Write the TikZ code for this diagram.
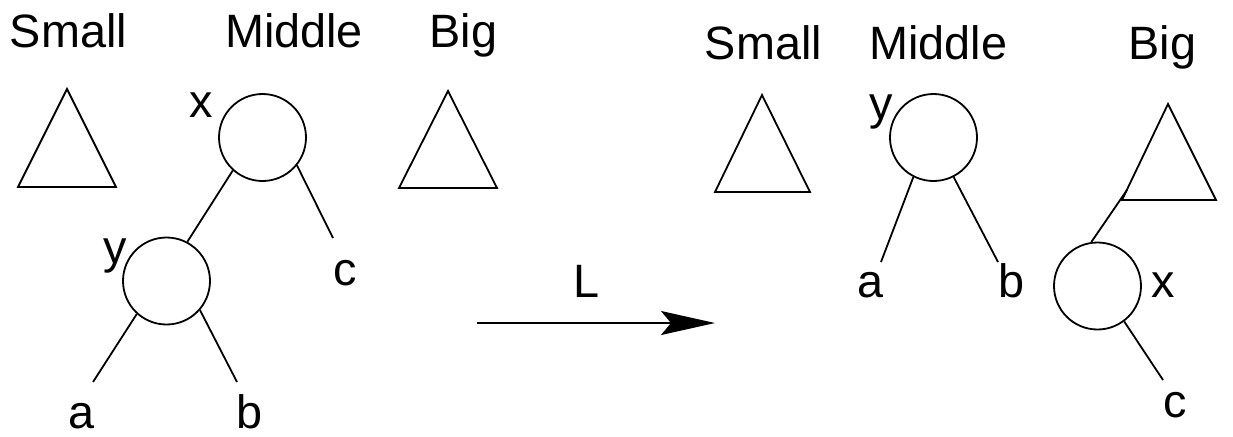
\documentclass[tikz,border=0pt]{standalone}
\usepackage{fontspec}
\setmainfont{Liberation Sans}
\usepackage{tikz}
\usetikzlibrary{arrows.meta,calc,positioning}

\tikzset{
  vertex/.style={circle,draw,minimum size=43.5pt,inner sep=0pt},
  lbl/.style={anchor=base,inner sep=0pt,font=\fontsize{23.4}{28}\selectfont},
}

\begin{document}
\begin{tikzpicture}[x=0.5pt,y=-0.5pt,line width=0.9pt,>={Stealth[length=27pt,width=12pt,inset=5pt]}]
  \useasboundingbox (0,0) rectangle (1233,436);
  % before the rotation
  \node[lbl] (smallL) at (68.5,47) {Small};
  \node[lbl] (middleL) at (294,47) {Middle};
  \node[lbl] (bigL) at (463.5,47) {Big};
  \draw (67,89) -- (116,187) -- (18,187) -- cycle;
  \draw (448,91) -- (497,188) -- (399,188) -- cycle;
  \node[vertex] (xL) at (262.5,137.5) {};
  \node[vertex] (yL) at (166.5,281) {};
  \node[lbl] (xlabL) at (201,117) {x};
  \node[lbl] (ylabL) at (115,263) {y};
  \coordinate (cL) at (333,238);
  \coordinate (aL) at (93,382);
  \coordinate (bL) at (237,382);
  \draw (xL.228) -- (yL.62);
  \draw (xL.-39.6) -- (cL);
  \draw (yL.228.5) -- (aL);
  \draw (yL.-41) -- (bL);
  \node[lbl] (clabL) at (345,285) {c};
  \node[lbl] (alabL) at (82,428) {a};
  \node[lbl] (blabL) at (250,428) {b};
  % the rotation
  \coordinate (arrS) at (477,323);
  \coordinate (arrE) at (715,323);
  \draw[->] (arrS) -- (arrE);
  \node[lbl] (rot) at (587,297) {L};
  % after the rotation
  \node[lbl] (smallR) at (763.5,59) {Small};
  \node[lbl] (middleR) at (938.5,59) {Middle};
  \node[lbl] (bigR) at (1162.5,59) {Big};
  \draw (762,95) -- (810,192) -- (715,192) -- cycle;
  \draw (1168,104) -- (1216,200) -- (1122,200) -- cycle;
  \coordinate (bigtri) at (1127,190);
  \node[vertex] (yR) at (933.5,137.5) {};
  \node[vertex] (xR) at (1097.5,286) {};
  \node[lbl] (ylabR) at (881,119) {y};
  \node[lbl] (xlabR) at (1163.5,297) {x};
  \coordinate (aR) at (881,262);
  \coordinate (bR) at (998,262);
  \coordinate (cR) at (1163,380);
  \draw (yR.-117.4) -- (aR);
  \draw (yR.-63.7) -- (bR);
  \draw (xR.98) -- (bigtri);
  \draw (xR.-53) -- (cR);
  \node[lbl] (alabR) at (871,297) {a};
  \node[lbl] (blabR) at (1012,297) {b};
  \node[lbl] (clabR) at (1175,417) {c};
\end{tikzpicture}
\end{document}
